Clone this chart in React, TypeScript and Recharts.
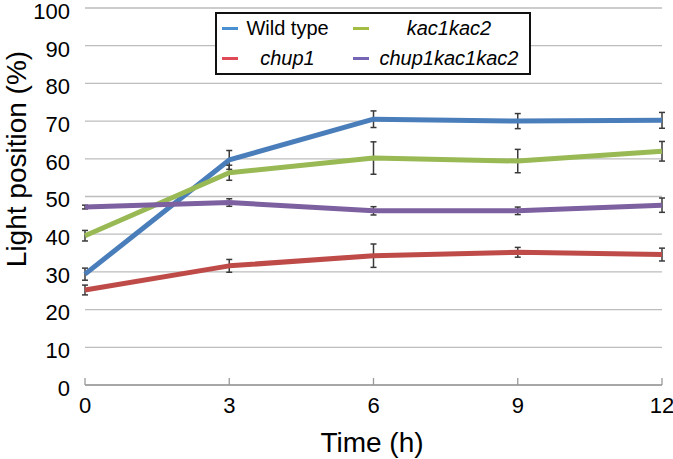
import React from 'react';
import { LineChart, Line, XAxis, YAxis, CartesianGrid, ErrorBar } from 'recharts';

// time points (h)
const times = [0, 3, 6, 9, 12];

// mean light position (%) and error per genotype
const wildType = [29.4, 59.7, 70.5, 70.0, 70.2];
const wildTypeErr = [1.6, 2.5, 2.2, 2.0, 2.1];
const chup1 = [25.2, 31.6, 34.3, 35.2, 34.6];
const chup1Err = [1.3, 1.7, 3.1, 1.3, 1.7];
const kac1kac2 = [39.6, 56.3, 60.2, 59.4, 62.0];
const kac1kac2Err = [1.4, 2.0, 4.3, 3.1, 2.6];
const chup1kac1kac2 = [47.2, 48.4, 46.2, 46.2, 47.7];
const chup1kac1kac2Err = [0.5, 1.0, 1.1, 1.0, 1.9];

const yTicks = [0, 10, 20, 30, 40, 50, 60, 70, 80, 90, 100];

const FONT = '"Liberation Sans", Arial, Helvetica, sans-serif';

const series = [
  { key: 'wt', name: 'Wild type', color: '#4a7ebb', swatch: '#4a90d0', italic: false },
  { key: 'chup1', name: 'chup1', color: '#be4b48', swatch: '#e04a58', italic: true },
  { key: 'kac', name: 'kac1kac2', color: '#98b954', swatch: '#a2bc44', italic: true },
  { key: 'triple', name: 'chup1kac1kac2', color: '#7d60a0', swatch: '#7565b2', italic: true },
];

const data = times.map((t, i) => ({
  time: t,
  wt: wildType[i],
  wtErr: wildTypeErr[i],
  chup1: chup1[i],
  chup1Err: chup1Err[i],
  kac: kac1kac2[i],
  kacErr: kac1kac2Err[i],
  triple: chup1kac1kac2[i],
  tripleErr: chup1kac1kac2Err[i],
}));

// legend is laid out in two columns, row by row
const legendOrder = ['wt', 'kac', 'chup1', 'triple'];

const LegendBox = () => (
  <div
    style={{
      position: 'absolute',
      left: 215,
      top: 12,
      width: 316,
      height: 63,
      boxSizing: 'border-box',
      border: '2px solid #111',
      background: '#fff',
      display: 'grid',
      gridTemplateColumns: '120px 192px',
      gridTemplateRows: '30px 30px',
      alignContent: 'center',
      fontFamily: FONT,
      fontSize: 20,
      color: '#000',
    }}
  >
    {legendOrder.map((k, i) => {
      const s = series.find((x) => x.key === k)!;
      return (
        <div key={k} style={{ display: 'flex', alignItems: 'center' }}>
          <span
            style={{
              display: 'inline-block',
              width: 16,
              height: 3,
              marginLeft: i % 2 === 0 ? 5 : 16,
              background: s.swatch,
              flex: 'none',
            }}
          />
          <span
            style={{
              flex: 1,
              textAlign: 'center',
              fontStyle: s.italic ? 'italic' : 'normal',
              whiteSpace: 'nowrap',
            }}
          >
            {s.name}
          </span>
        </div>
      );
    })}
  </div>
);

const YTick = ({ x, y, payload }: any) => (
  <text x={x} y={y + 3} dy="0.355em" textAnchor="end" fontFamily={FONT} fontSize={22} fill="#000">
    {payload.value}
  </text>
);

const YTitle = () => (
  <text
    x={26}
    y={159}
    transform="rotate(-90, 26, 159)"
    textAnchor="middle"
    fontFamily={FONT}
    fontSize={28}
    fill="#000"
  >
    Light position (%)
  </text>
);

const XTitle = () => (
  <text x={372} y={452} textAnchor="middle" fontFamily={FONT} fontSize={28} fill="#000">
    Time (h)
  </text>
);

export default function App() {
  return (
    <div style={{ position: 'absolute', left: 0, top: 0, width: 673, height: 459, background: '#fff' }}>
      <LineChart width={673} height={459} data={data} margin={{ top: 8, right: 11, left: 0, bottom: 0 }}>
        <CartesianGrid horizontal vertical={false} stroke="#bdbdbd" strokeWidth={1.3} />
        <XAxis
          dataKey="time"
          type="number"
          domain={[0, 12]}
          ticks={times}
          height={74}
          axisLine={{ stroke: '#9a9a9a', strokeWidth: 1.3 }}
          tickLine={{ stroke: '#9a9a9a', strokeWidth: 1.3 }}
          tickSize={-7}
          tickMargin={19}
          tick={{ fontFamily: FONT, fontSize: 22, fill: '#000' }}
          label={<XTitle />}
        />
        <YAxis
          domain={[0, 100]}
          ticks={yTicks}
          width={85}
          axisLine={false}
          tickLine={false}
          tickSize={0}
          tickMargin={15}
          interval={0}
          tick={<YTick />}
          label={<YTitle />}
        />
        {series.map((s) => (
          <Line
            key={s.key}
            type="linear"
            dataKey={s.key}
            name={s.name}
            stroke={s.color}
            strokeWidth={5}
            strokeLinejoin="round"
            dot={false}
            activeDot={false}
            isAnimationActive={false}
          >
            <ErrorBar dataKey={`${s.key}Err`} width={3} stroke="#3a3a3a" strokeWidth={1.5} direction="y" />
          </Line>
        ))}
      </LineChart>
      <LegendBox />
    </div>
  );
}
